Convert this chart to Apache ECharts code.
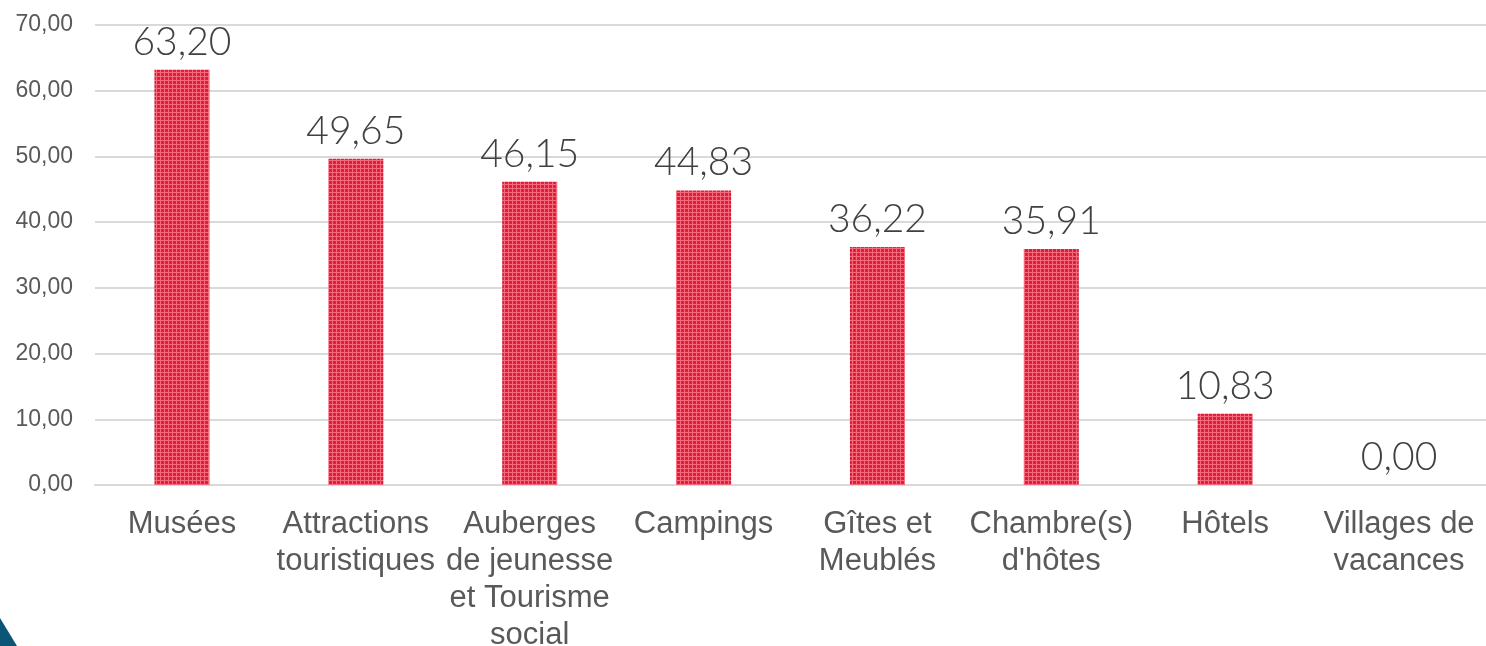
<!DOCTYPE html>
<html lang="fr">
<head>
    <meta charset="UTF-8">
    <title>Hébergements et sites</title>
    <script src="https://cdn.jsdelivr.net/npm/echarts@6/dist/echarts.min.js"></script>
    <style>
        html, body { margin: 0; padding: 0; background: #fff; }
        #charts { width: 1486px; height: 646px; }
    </style>
</head>
<body>
<div id="charts"></div>
<script>
    // données
    var categories = ['Musées', 'Attractions\ntouristiques', 'Auberges\nde jeunesse\net Tourisme\nsocial',
        'Campings', 'Gîtes et\nMeublés', "Chambre(s)\nd'hôtes", 'Hôtels', 'Villages de\nvacances'];
    var values = [63.20, 49.65, 46.15, 44.83, 36.22, 35.91, 10.83, 0.00];
    var yTicks = [0, 10, 20, 30, 40, 50, 60, 70];

    // motif des barres
    function makePattern() {
        var c = document.createElement('canvas');
        c.width = 4; c.height = 4;
        var ctx = c.getContext('2d');
        ctx.fillStyle = '#e81f3c';
        ctx.fillRect(0, 0, 4, 4);
        ctx.fillStyle = '#f26a7c';
        ctx.fillRect(0, 0, 4, 1);
        ctx.fillRect(0, 0, 1, 4);
        ctx.fillStyle = '#d3132f';
        ctx.fillRect(2, 2, 1, 1);
        return c;
    }

    function fr(v) {
        return v.toFixed(2).replace('.', ',');
    }

    var myChart = echarts.init(document.getElementById('charts'));

    var option = {
        animation: false,
        grid: {
            left: 95,
            right: 0,
            top: 25,
            bottom: 161,
            containLabel: false,
            outerBoundsMode: 'none'
        },
        xAxis: {
            type: 'category',
            data: categories,
            axisLine: { show: true, lineStyle: { color: '#d9d9d9', width: 2 } },
            axisTick: { show: false },
            axisLabel: {
                interval: 0,
                margin: 21,
                color: '#595959',
                fontFamily: 'Liberation Sans, Arial',
                fontSize: 31,
                lineHeight: 37
            }
        },
        yAxis: {
            type: 'value',
            min: yTicks[0],
            max: yTicks[yTicks.length - 1],
            interval: 10,
            axisLine: { show: false },
            axisTick: { show: false },
            splitLine: { lineStyle: { color: '#d9d9d9', width: 2 } },
            axisLabel: {
                margin: 22,
                color: '#595959',
                fontFamily: 'Liberation Sans, Arial',
                fontSize: 23,
                formatter: function (v) { return fr(v); }
            }
        },
        series: [{
            type: 'bar',
            data: values,
            barWidth: 55,
            itemStyle: {
                color: { image: makePattern(), repeat: 'repeat' }
            },
            label: {
                show: true,
                position: 'top',
                distance: 8,
                color: '#404040',
                fontFamily: 'Lato',
                fontWeight: 300,
                fontSize: 39,
                formatter: function (p) { return fr(p.value); }
            }
        }],
        graphic: [{
            type: 'polygon',
            shape: { points: [[0, 618], [17, 646], [0, 646]] },
            style: { fill: '#0b5677' },
            silent: true
        }]
    };

    myChart.setOption(option);
</script>
</body>
</html>
